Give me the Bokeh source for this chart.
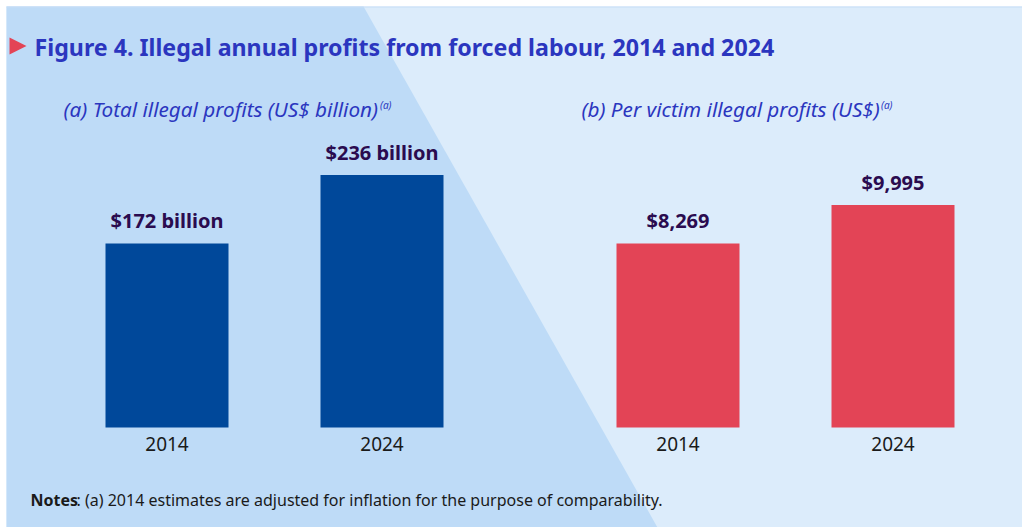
from bokeh.plotting import figure
from bokeh.models import Range1d, Label
from bokeh.core.properties import value
from bokeh.embed import file_html
from bokeh.resources import INLINE

# ---------------- data ----------------
years = [2014, 2024]
year_labels = ["2014", "2024"]
total_profits = [172, 236]            # US$ billion
total_labels = ["$172 billion", "$236 billion"]
per_victim = [8269, 9995]             # US$
per_victim_labels = ["$8,269", "$9,995"]

title_text = "Figure 4. Illegal annual profits from forced labour, 2014 and 2024"
sub_a_text = "(a) Total illegal profits (US$ billion)"
sub_b_text = "(b) Per victim illegal profits (US$)"
sup_text = "(a)"
note_head = "Notes"
note_body = ": (a) 2014 estimates are adjusted for inflation for the purpose of comparability."

# ---------------- layout / style ----------------
W, H = 1022, 527
FONT = value("Noto Sans")
BG_RIGHT = "#DCECFB"
BG_LEFT = "#BEDBF7"
NAVY = "#00489A"
RED = "#E34456"
TITLE_BLUE = "#2B36BF"
LABEL_DARK = "#2A0B4F"
TICK_DARK = "#1A1A1A"

base_px = 100.0                # baseline height above the bottom of the frame
px_per_bn = 184.0 / 172.0      # pixel scale for panel (a)
px_per_usd = 184.0 / 8269.0    # pixel scale for panel (b)
px_per_year = 21.5             # horizontal scale (bar spacing)
centre_a = 166.5               # pixel position of first bar, panel (a)
centre_b = 677.5               # pixel position of first bar, panel (b)
bar_px = 123.0

p = figure(width=W, height=H, output_backend="svg", toolbar_location=None,
           x_range=Range1d(0, W), y_range=Range1d(H, 0),
           x_axis_location=None, y_axis_location=None, min_border=0)
p.grid.visible = False
p.outline_line_color = None
p.background_fill_color = "white"
p.border_fill_color = "white"

p.extra_y_ranges = {
    "tot": Range1d(-base_px / px_per_bn, (H - base_px) / px_per_bn),
    "pv": Range1d(-base_px / px_per_usd, (H - base_px) / px_per_usd),
}
p.extra_x_ranges = {
    "xa": Range1d(years[0] - centre_a / px_per_year, years[0] + (W - centre_a) / px_per_year),
    "xb": Range1d(years[0] - centre_b / px_per_year, years[0] + (W - centre_b) / px_per_year),
}

# panel background with diagonal band
p.patch([6, W, W, 6], [6, 6, H, H], fill_color=BG_RIGHT, line_color=None)
p.patch([6, 363, 657, 6], [6, 6, H, H], fill_color=BG_LEFT, line_color=None)
p.line([6, W], [6.5, 6.5], line_color="#C6DDF6", line_width=1)

# title marker
p.patch([9, 9, 26], [37, 54, 45.5], fill_color=RED, line_color=None)

# bars
p.vbar(x=years, top=total_profits, bottom=0, width=bar_px / px_per_year,
       x_range_name="xa", y_range_name="tot", fill_color=NAVY, line_color=None)
p.vbar(x=years, top=per_victim, bottom=0, width=bar_px / px_per_year,
       x_range_name="xb", y_range_name="pv", fill_color=RED, line_color=None)

common = dict(text_font=FONT, text_align="center", text_baseline="alphabetic")
p.text(x=years, y=total_profits, text=total_labels, x_range_name="xa", y_range_name="tot",
       y_offset=-23, text_font_style="bold", text_font_size="20px", text_color=LABEL_DARK, **common)
p.text(x=years, y=per_victim, text=per_victim_labels, x_range_name="xb", y_range_name="pv",
       y_offset=-23, text_font_style="bold", text_font_size="20px", text_color=LABEL_DARK, **common)
p.text(x=years, y=[0] * len(years), text=year_labels, x_range_name="xa", y_range_name="tot",
       y_offset=16, text_font_size="19px", text_color=TICK_DARK, **common)
p.text(x=years, y=[0] * len(years), text=year_labels, x_range_name="xb", y_range_name="pv",
       y_offset=16, text_font_size="19px", text_color=TICK_DARK, **common)

def lab(x, y, t, size, color, style="normal"):
    p.add_layout(Label(x=x, y=y, text=t, text_font="Noto Sans", text_font_size=size,
                       text_color=color, text_font_style=style, text_baseline="alphabetic",
                       text_align="left"))

lab(34, 46, title_text, "23.2px", TITLE_BLUE, "bold")
lab(63, 108, sub_a_text, "20.7px", TITLE_BLUE, "italic")
lab(379.5, 104, sup_text, "10px", TITLE_BLUE, "italic")
lab(581, 108, sub_b_text, "20.7px", TITLE_BLUE, "italic")
lab(880.5, 104, sup_text, "10px", TITLE_BLUE, "italic")
lab(30, 499, note_head, "16px", TICK_DARK, "bold")
lab(76, 499, note_body, "16px", TICK_DARK)

open("out.html", "w").write(file_html(p, INLINE))
